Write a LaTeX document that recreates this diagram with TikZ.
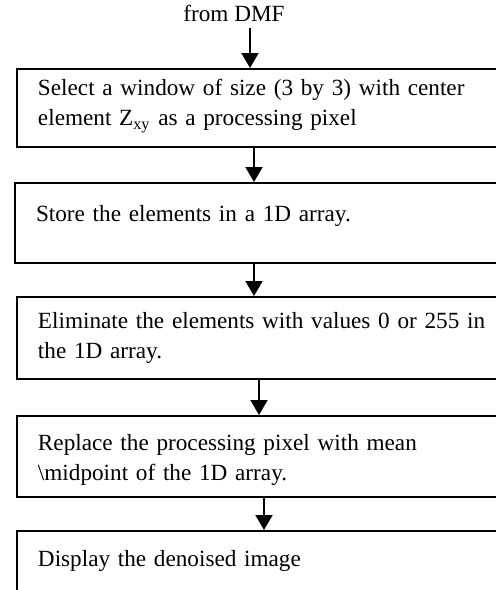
\documentclass[tikz,border=0pt]{standalone}
\usepackage{fontspec}
\setmainfont{Liberation Serif}
\usetikzlibrary{arrows.meta}

\tikzset{
  stepbox/.style={draw, line width=1pt, anchor=north west, align=left,
    text width=236pt, inner xsep=10.5pt, inner ysep=0pt,
    font=\fontsize{11.6}{15}\selectfont},
  flow/.style={line width=1pt, -{Triangle[length=7.5pt,width=8.5pt]}}
}

\begin{document}
\begin{tikzpicture}[x=0.5pt,y=-0.5pt]
    \useasboundingbox (0,0) rectangle (496,590);
    \clip (0,0) rectangle (496,590);
    \node[font=\fontsize{11.6}{15}\selectfont] (src) at (234,13) {from DMF};
    \node[stepbox, text height=13.2pt, text depth=25.8pt] (win) at (16,68) {Select a window of size (3 by 3) with center\\element Z\textsubscript{xy} as a processing pixel};
    \node[stepbox, text height=19pt, text depth=21pt] (store) at (14,182) {Store the elements in a 1D array.};
    \node[stepbox, minimum height=41pt] (elim) at (16,296) {Eliminate the elements with values 0 or 255 in\\the 1D array.};
    \node[stepbox, text height=17pt, text depth=23.5pt] (repl) at (16,415) {Replace the processing pixel with mean\\\textbackslash midpoint of the 1D array.};
    \node[stepbox, text height=17.5pt, text depth=30pt] (show) at (16,530) {Display the denoised image};
    \draw[flow] (src.south -| 250,0) -- (win.north -| 250,0);
    \draw[flow] (win.south -| 254,0) -- (store.north -| 254,0);
    \draw[flow] (store.south -| 254,0) -- (elim.north -| 254,0);
    \draw[flow] (elim.south -| 259,0) -- (repl.north -| 259,0);
    \draw[flow] (repl.south -| 264,0) -- (show.north -| 264,0);
\end{tikzpicture}
\end{document}
